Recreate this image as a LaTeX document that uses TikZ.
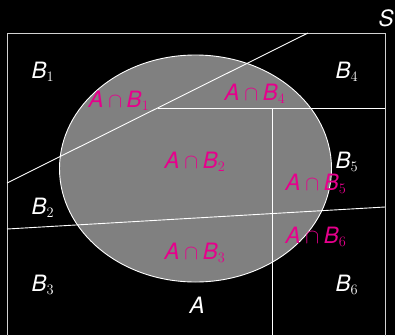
\documentclass[tikz,border=0pt]{standalone}
\usepackage{fontspec}
\newfontfamily\hv{TeX Gyre Heros}
\definecolor{pinkish}{RGB}{230,0,140}
\definecolor{midgray}{RGB}{128,128,128}
\definecolor{boxgray}{RGB}{210,210,210}
\newcommand\sv[1]{\mbox{\hv\itshape #1}}
\begin{document}
\begin{tikzpicture}[x=1pt,y=-1pt,
  seg/.style={draw=white,line width=0.9pt},
  lbl/.style={text=white,font=\fontsize{22.5}{25}\selectfont,inner sep=0pt},
  ilbl/.style={text=pinkish,font=\fontsize{22.5}{25}\selectfont,inner sep=0pt}]
\fill[black] (0,0) rectangle (395,335);
\clip (0,0) rectangle (395,335);
\useasboundingbox (0,0) rectangle (395,335);
% sample space
\draw[boxgray,line width=0.9pt] (7,33) rectangle (385,350);
% event A
\fill[midgray] (195.5,168.5) ellipse [x radius=136, y radius=113.5];
% partition lines
\coordinate (d1) at (7,183);
\coordinate (d2) at (308,33);
\coordinate (h1) at (157.5,108);
\coordinate (h2) at (385,108);
\coordinate (v1) at (272,108);
\coordinate (v2) at (272,350);
\coordinate (l1) at (7,229);
\coordinate (l2) at (385,207);
\draw[seg] (d1) -- (d2);
\draw[seg] (h1) -- (h2);
\draw[seg] (v1) -- (v2);
\draw[seg] (l1) -- (l2);
\draw[white,line width=0.9pt] (195.5,168.5) ellipse [x radius=136, y radius=113.5];
% labels
\node[lbl] (S) at (386,18) {$\sv{S}$};
\node[lbl] (b1) at (43,72) {$\sv{B}_1$};
\node[lbl] (b4) at (347,72) {$\sv{B}_4$};
\node[lbl] (b5) at (347,162) {$\sv{B}_5$};
\node[lbl] (b2) at (43,208) {$\sv{B}_2$};
\node[lbl] (b3) at (43,285) {$\sv{B}_3$};
\node[lbl] (b6) at (347,285) {$\sv{B}_6$};
\node[lbl] (a) at (197,305) {$\sv{A}$};
\node[ilbl] (ab1) at (119,101) {$\sv{A}\cap\sv{B}_1$};
\node[ilbl] (ab4) at (255,94) {$\sv{A}\cap\sv{B}_4$};
\node[ilbl] (ab2) at (195,162) {$\sv{A}\cap\sv{B}_2$};
\node[ilbl] (ab5) at (316,184) {$\sv{A}\cap\sv{B}_5$};
\node[ilbl] (ab6) at (316,237) {$\sv{A}\cap\sv{B}_6$};
\node[ilbl] (ab3) at (195,253) {$\sv{A}\cap\sv{B}_3$};
\end{tikzpicture}
\end{document}
